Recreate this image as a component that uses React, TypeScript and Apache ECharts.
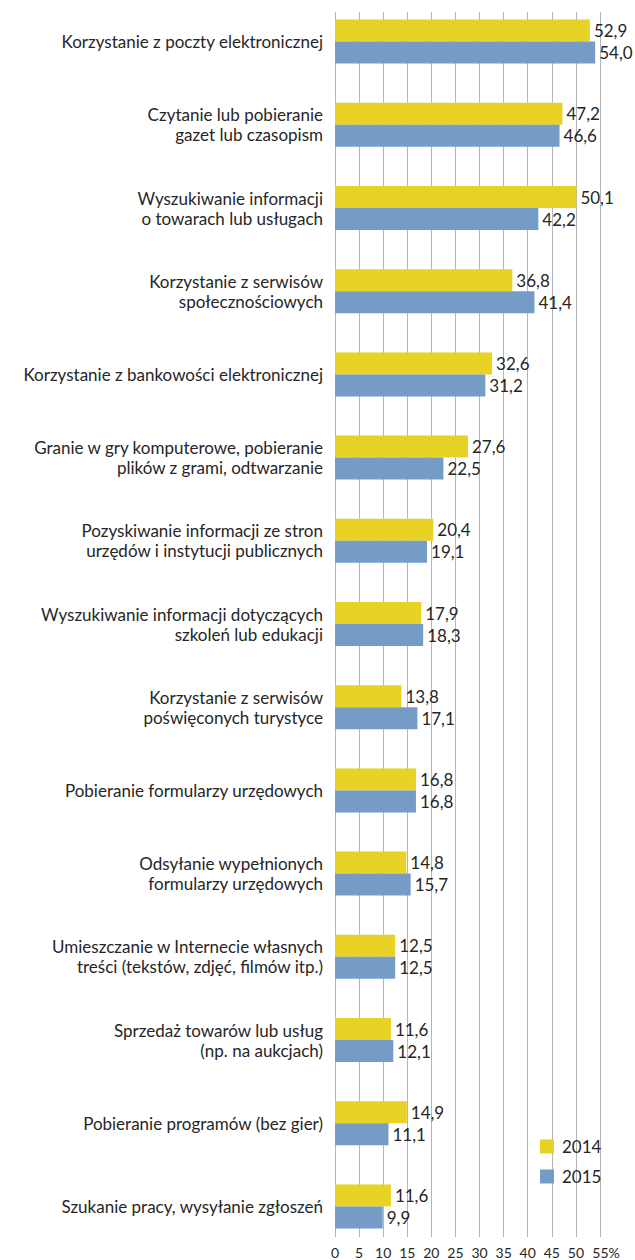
import React, { useEffect, useRef } from "react";
import * as echarts from "echarts";

const categories = [
  "Korzystanie z poczty elektronicznej",
  "Czytanie lub pobieranie\ngazet lub czasopism",
  "Wyszukiwanie informacji\no towarach lub usługach",
  "Korzystanie z serwisów\nspołecznościowych",
  "Korzystanie z bankowości elektronicznej",
  "Granie w gry komputerowe, pobieranie\nplików z grami, odtwarzanie",
  "Pozyskiwanie informacji ze stron\nurzędów i instytucji publicznych",
  "Wyszukiwanie informacji dotyczących\nszkoleń lub edukacji",
  "Korzystanie z serwisów\npoświęconych turystyce",
  "Pobieranie formularzy urzędowych",
  "Odsyłanie wypełnionych\nformularzy urzędowych",
  "Umieszczanie w Internecie własnych\ntreści (tekstów, zdjęć, filmów itp.)",
  "Sprzedaż towarów lub usług\n(np. na aukcjach)",
  "Pobieranie programów (bez gier)",
  "Szukanie pracy, wysyłanie zgłoszeń",
];

const values2014 = [52.9, 47.2, 50.1, 36.8, 32.6, 27.6, 20.4, 17.9, 13.8, 16.8, 14.8, 12.5, 11.6, 14.9, 11.6];
const values2015 = [54.0, 46.6, 42.2, 41.4, 31.2, 22.5, 19.1, 18.3, 17.1, 16.8, 15.7, 12.5, 12.1, 11.1, 9.9];

const seriesNames = ["2014", "2015"];
const xMin = 0;
const xMax = 55;
const xStep = 5;

const FONT = "Lato, 'Open Sans', sans-serif";
const TEXT = "#262626";

const fmt = (v: number) => v.toFixed(1).replace(".", ",");

export default function App() {
  const ref = useRef<HTMLDivElement>(null);
  useEffect(() => {
    if (!ref.current) return;
    const chart = echarts.init(ref.current, undefined, { renderer: "svg" });
    const labelCommon = {
      show: true,
      position: "right",
      distance: 4,
      fontFamily: FONT,
      fontSize: 17,
      color: TEXT,
      formatter: (p: any) => fmt(p.value),
    };
    chart.setOption({
      animation: false,
      backgroundColor: "#ffffff",
      textStyle: { fontFamily: FONT },
      grid: [
        { left: 335, width: 265, top: 12, height: 1220 },
        { left: 335, width: 265, top: -3, height: 1251 },
      ],
      legend: {
        orient: "vertical",
        left: 535,
        top: 1133,
        itemWidth: 14,
        itemHeight: 14,
        itemGap: 13,
        icon: "rect",
        textStyle: { fontFamily: FONT, fontSize: 17, color: TEXT, padding: [0, 0, 0, 3] },
        data: seriesNames,
      },
      xAxis: [
        {
          gridIndex: 0,
          type: "value",
          min: xMin,
          max: xMax,
          interval: xStep,
          axisLine: { show: false },
          axisTick: { show: true, length: 5, lineStyle: { color: "#b5b5b5" } },
          splitLine: { show: true, lineStyle: { color: "#b5b5b5", width: 1 } },
          axisLabel: {
            fontFamily: FONT,
            fontSize: 14,
            color: TEXT,
            margin: 13,
            formatter: (v: number) => (v === xMax ? "{last|" + v + "%}" : String(v)),
            rich: {
              last: { fontFamily: FONT, fontSize: 14, color: TEXT, padding: [0, 0, 0, 12] },
            },
          },
        },
        {
          gridIndex: 1,
          type: "value",
          min: xMin,
          max: xMax,
          interval: xStep,
          show: false,
        },
      ],
      yAxis: [
        {
          gridIndex: 0,
          type: "value",
          show: false,
        },
        {
          gridIndex: 1,
          type: "category",
          inverse: true,
          data: categories,
          axisLine: { show: false },
          axisTick: { show: false },
          axisLabel: {
            fontFamily: FONT,
            fontSize: 17,
            lineHeight: 20,
            color: TEXT,
            margin: 12,
            align: "right",
          },
        },
      ],
      series: [
        {
          name: seriesNames[0],
          type: "bar",
          xAxisIndex: 1,
          yAxisIndex: 1,
          data: values2014,
          barWidth: 22,
          barGap: "0%",
          itemStyle: { color: "#E8D226" },
          label: labelCommon,
        },
        {
          name: seriesNames[1],
          type: "bar",
          xAxisIndex: 1,
          yAxisIndex: 1,
          data: values2015,
          barWidth: 22,
          barGap: "0%",
          itemStyle: { color: "#749CC6" },
          label: labelCommon,
        },
      ],
    });
    return () => chart.dispose();
  }, []);
  return (
    <div
      ref={ref}
      style={{ position: "absolute", left: 0, top: 0, width: 635, height: 1260 }}
    />
  );
}
